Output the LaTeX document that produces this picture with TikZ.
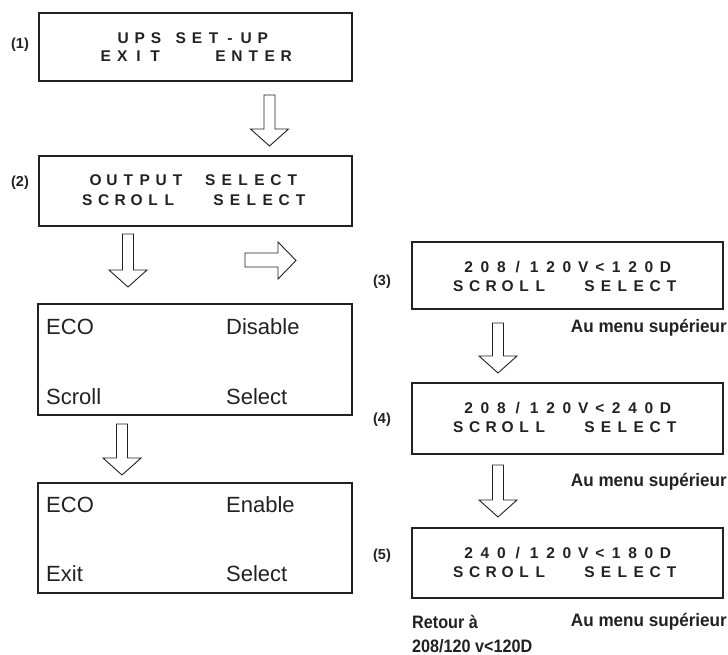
\documentclass[tikz,border=0pt]{standalone}
\usepackage{fontspec}
\setmainfont{Liberation Sans}
\newfontfamily\condfont{Liberation Sans}[FakeStretch=0.9]
\newfontfamily\condfontw{Liberation Sans}[FakeStretch=0.95]
\definecolor{ink}{HTML}{222222}
\newlength\lcdpitch
\setlength\lcdpitch{16.4pt}
\makeatletter
\def\lcd@star{*}
\def\lcd@half{+}
\newcommand\lcdtext[1]{\@tfor\lcd@c:=#1\do{%
  \ifx\lcd@c\lcd@half\hspace*{0.5\lcdpitch}%
  \else\makebox[\lcdpitch][c]{\ifx\lcd@c\lcd@star\else\lcd@c\fi}\fi}}
\makeatother
\tikzset{
  lcdbox/.style={draw=ink, line width=1.3pt},
  lcd/.style={anchor=base, inner sep=0pt, font=\bfseries\fontsize{15.5}{15.5}\selectfont, text=ink},
  eco/.style={anchor=base west, inner sep=0pt, font=\fontsize{22}{22}\selectfont, text=ink},
  numlab/.style={inner sep=0pt, font=\bfseries\fontsize{14.5}{14.5}\selectfont, text=ink},
  note/.style={inner sep=0pt, font=\condfont\bfseries\fontsize{18}{18}\selectfont, text=ink},
  notew/.style={inner sep=0pt, font=\condfontw\bfseries\fontsize{18}{18}\selectfont, text=ink},
  blk/.style={draw=ink, line width=0.9pt, fill=white, line join=miter}
}
% block arrow pointing down: x, ytop, ytip
\newcommand\blkdn[3]{\draw[blk] (#1-5.5,#2) -- (#1+5.5,#2) -- (#1+5.5,#3-17) -- (#1+19,#3-17) -- (#1,#3) -- (#1-19,#3-17) -- (#1-5.5,#3-17) -- cycle;}
\begin{document}
\begin{tikzpicture}[x=1pt,y=-1pt]
\useasboundingbox[fill=white] (0,0) rectangle (728,655);
% boxes
\draw[lcdbox] (39,13) rectangle (352,81);
\draw[lcdbox] (39,156) rectangle (352,226);
\draw[lcdbox] (38,304) rectangle (352,415);
\draw[lcdbox] (38,483) rectangle (352,593);
\draw[lcdbox] (412,242) rectangle (723,309);
\draw[lcdbox] (412,383) rectangle (723,454);
\draw[lcdbox] (412,528) rectangle (723,598);
% labels
\node[numlab] (l1) at (20,45) {(1)};
\node[numlab] (l2) at (20,183) {(2)};
\node[numlab] (l3) at (382,282) {(3)};
\node[numlab] (l4) at (382,420) {(4)};
\node[numlab] (l5) at (382,556) {(5)};
% box 1
\node[lcd] (t1a) at (193,43.5) {\lcdtext{UPS+SET-UP}};
\node[lcd] (t1b) at (196,61.5) {\lcdtext{EXIT***ENTER}};
% box 2
\node[lcd] (t2a) at (194,185.5) {\lcdtext{OUTPUT*SELECT}};
\node[lcd] (t2b) at (194,205.5) {\lcdtext{SCROLL**SELECT}};
% box 3
\node[lcd] (t3a) at (567,272.5) {\lcdtext{208/120V<120D}};
\node[lcd] (t3b) at (565,291.5) {\lcdtext{SCROLL**SELECT}};
% box 4
\node[lcd] (t4a) at (567,413.5) {\lcdtext{208/120V<240D}};
\node[lcd] (t4b) at (565,432.5) {\lcdtext{SCROLL**SELECT}};
% box 5
\node[lcd] (t5a) at (567,558.5) {\lcdtext{240/120V<180D}};
\node[lcd] (t5b) at (565,577.5) {\lcdtext{SCROLL**SELECT}};
% ECO boxes
\node[eco] (e1a) at (46,334) {ECO};
\node[eco] (e1b) at (226,334) {Disable};
\node[eco] (e1c) at (46,404) {Scroll};
\node[eco] (e1d) at (226,404) {Select};
\node[eco] (e2a) at (46,512) {ECO};
\node[eco] (e2b) at (226,512) {Enable};
\node[eco] (e2c) at (46,581) {Exit};
\node[eco] (e2d) at (226,581) {Select};
% notes
\node[notew, anchor=east] (n1) at (727,328) {Au menu supérieur};
\node[notew, anchor=east] (n2) at (727,482) {Au menu supérieur};
\node[notew, anchor=east] (n3) at (727,622) {Au menu supérieur};
\node[note, anchor=west] (n4) at (412,622) {Retour à};
\node[note, anchor=west] (n5) at (412,646) {208/120 v<120D};
% arrows
\blkdn{269.5}{95}{146}
\blkdn{128}{234}{287}
\blkdn{122}{424}{475}
\blkdn{498}{323}{373}
\blkdn{498}{465}{517}
\draw[blk] (245,253) -- (278,253) -- (278,242) -- (296,260.5) -- (278,279) -- (278,267) -- (245,267) -- cycle;
\end{tikzpicture}
\end{document}
